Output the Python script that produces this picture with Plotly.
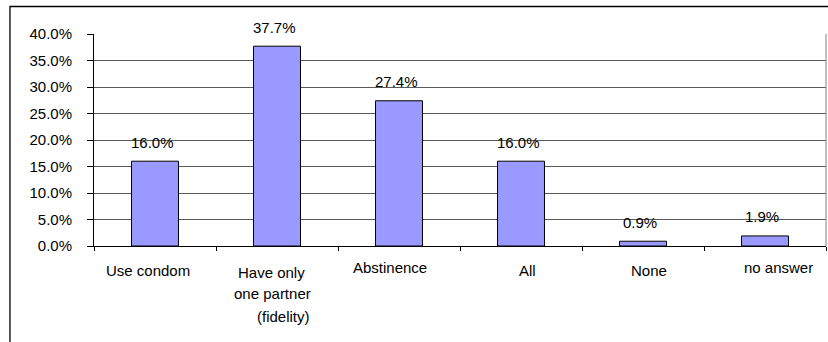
import plotly.graph_objects as go

categories = ["Use condom", "Have only one partner (fidelity)", "Abstinence", "All", "None", "no answer"]
label_lines = [["Use condom"], ["Have only", "one partner", "(fidelity)"], ["Abstinence"], ["All"], ["None"], ["no answer"]]
values = [16.0, 37.7, 27.4, 16.0, 0.9, 1.9]
y_ticks = [0, 5, 10, 15, 20, 25, 30, 35, 40]
y_tick_labels = ["0.0%", "5.0%", "10.0%", "15.0%", "20.0%", "25.0%", "30.0%", "35.0%", "40.0%"]

FONT = "Liberation Sans, Arial, sans-serif"
FS = 15

fig = go.Figure()
fig.add_trace(go.Bar(
    x=categories, y=values, width=0.385,
    marker=dict(color="#9999FF", line=dict(color="#000000", width=1)),
    hoverinfo="skip",
))

annotations = []
# data labels
for c, v in zip(categories, values):
    annotations.append(dict(x=c, y=v, xref="x", yref="y", text=f"{v:.1f}%", showarrow=False,
                            xanchor="center", yanchor="middle", xshift=-3, yshift=19,
                            font=dict(family=FONT, size=FS, color="#000")))

# category labels (offsets mimic the original layout)
label_style = {
    0: ([-7], [-24]),
    1: ([-6, -5, 6], [-26, -47, -70]),
    2: ([-9], [-21]),
    3: ([6], [-24]),
    4: ([6], [-24]),
    5: ([13], [-21]),
}
for i, (c, lines) in enumerate(zip(categories, label_lines)):
    xs, ys = label_style[i]
    for j, line in enumerate(lines):
        annotations.append(dict(x=c, y=0, xref="x", yref="paper", text=line, showarrow=False,
                                xanchor="center", yanchor="middle", xshift=xs[j], yshift=ys[j],
                                font=dict(family=FONT, size=FS, color="#000")))

shapes = [
    # right border of plot area
    dict(type="line", xref="paper", yref="paper", x0=1, x1=1, y0=0, y1=1,
         line=dict(color="#808080", width=1)),
    # outer chart border (partially outside canvas)
    dict(type="rect", xref="paper", yref="paper", x0=-0.1148, x1=1.03, y0=-0.7, y1=1.1297,
         line=dict(color="#000000", width=1.3), fillcolor="rgba(0,0,0,0)"),
]

fig.update_layout(
    width=828, height=342,
    margin=dict(l=94, r=2, t=34, b=96),
    paper_bgcolor="white", plot_bgcolor="white",
    showlegend=False,
    font=dict(family=FONT, size=FS, color="#000"),
    annotations=annotations,
    shapes=shapes,
    xaxis=dict(
        type="category", showticklabels=False, showgrid=False,
        ticks="outside", ticklen=4, tickcolor="#000", tickson="boundaries",
        showline=True, linecolor="#000", linewidth=1,
        range=[-0.5, 5.5], fixedrange=True,
    ),
    yaxis=dict(
        range=[0, 40], tickvals=y_ticks, ticktext=y_tick_labels,
        showgrid=True, gridcolor="#5a5a5a", gridwidth=1,
        ticks="outside", ticklen=6, tickcolor="#000",
        showline=True, linecolor="#000", linewidth=1,
        zeroline=False, ticklabelstandoff=12,
        tickfont=dict(family=FONT, size=FS, color="#000"),
        fixedrange=True,
    ),
)

fig.write_html("out.html")
